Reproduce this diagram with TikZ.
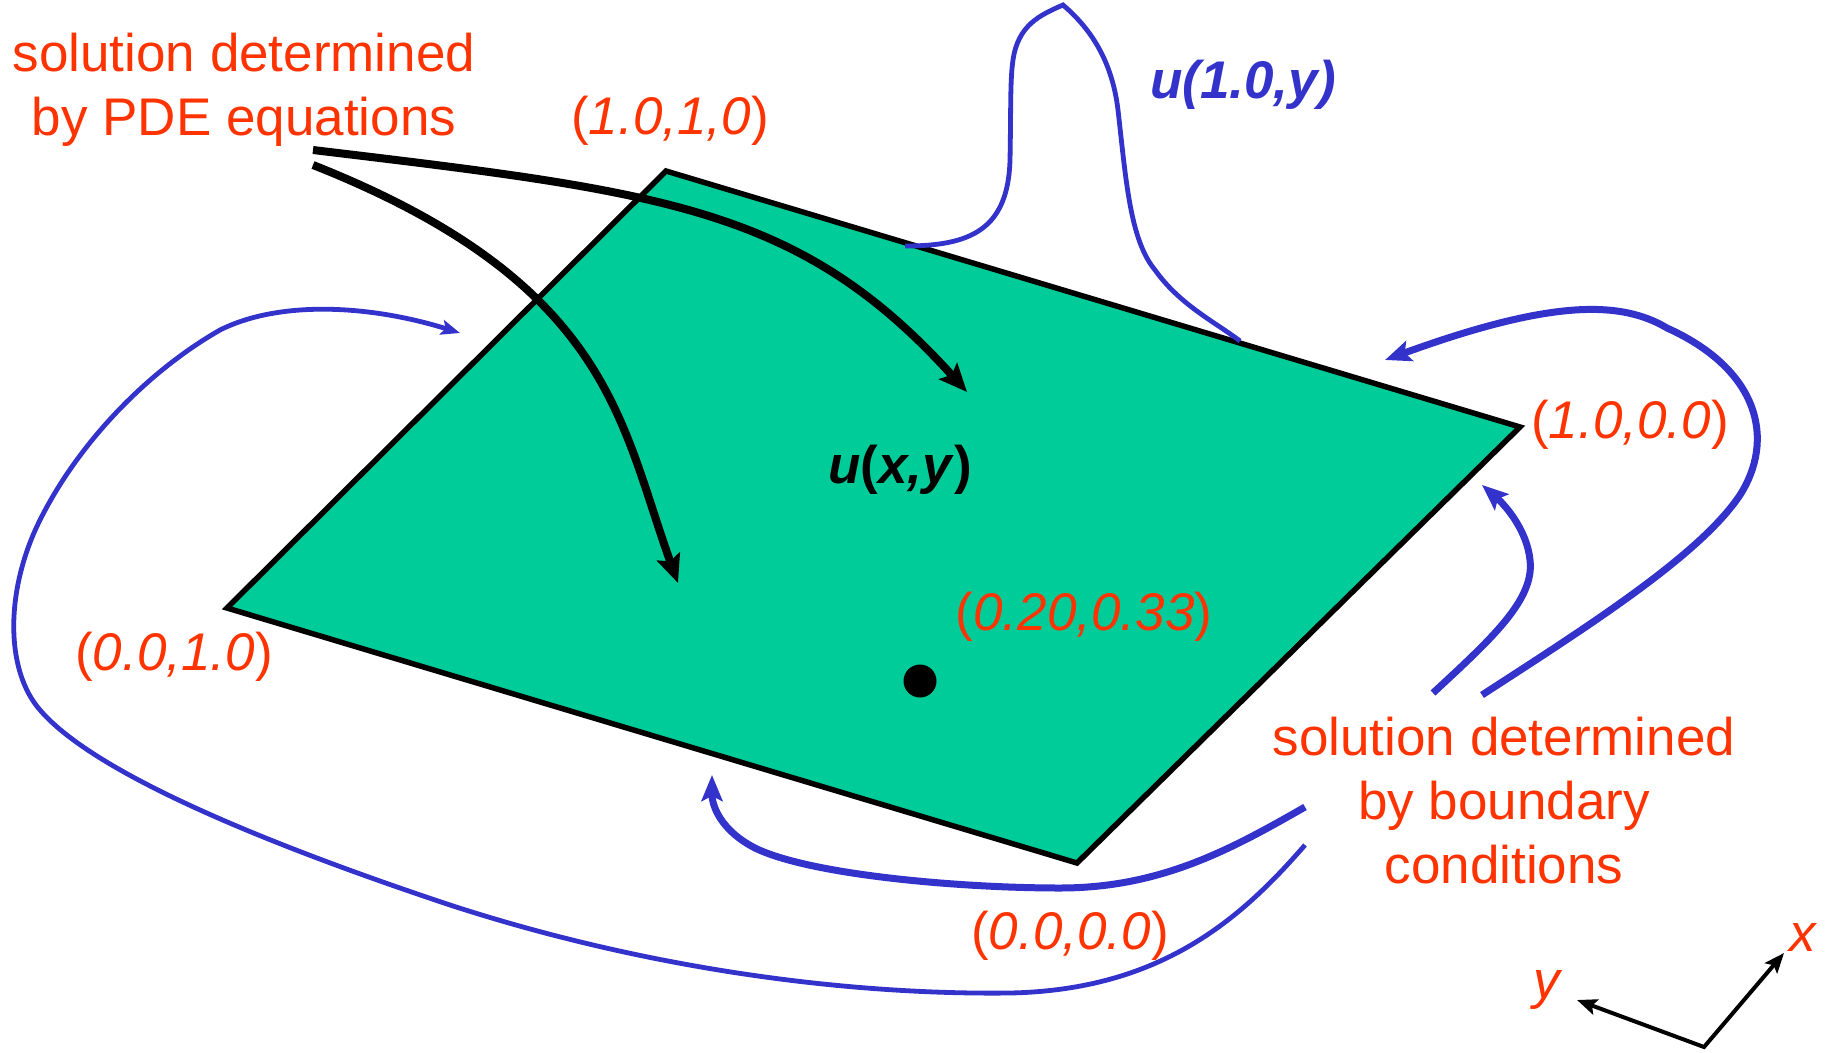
\documentclass[tikz,border=0pt]{standalone}
\usepackage{fontspec}
\setmainfont{Liberation Sans}
\usetikzlibrary{arrows.meta}
\definecolor{plate}{RGB}{0,204,153}
\definecolor{labred}{RGB}{255,51,0}
\definecolor{bcblue}{RGB}{51,51,204}

\begin{document}
\begin{tikzpicture}[x=1pt, y=-1pt,
    lbl/.style={text=labred, font=\fontsize{53}{64}\selectfont, inner sep=0pt},
    note/.style={lbl, align=center},
    pdearr/.style={line width=8pt, -{Stealth[length=28pt, width=24pt, inset=5pt]}},
    bcarr/.style={bcblue, line width=7pt, -{Stealth[length=26pt, width=21pt, inset=5pt]}},
    bcthin/.style={bcblue, line width=4.8pt},
    axarr/.style={line width=4pt, {Stealth[length=20pt, width=16pt, inset=4pt]}-{Stealth[length=20pt, width=16pt, inset=4pt]}}]
  \useasboundingbox (0,0) rectangle (1833,1052);
  % the unit square in perspective
  \coordinate (L) at (227,608);
  \coordinate (T) at (666,171);
  \coordinate (R) at (1520,427);
  \coordinate (B) at (1077,863);
  \filldraw[fill=plate, line width=5.5pt] (L) -- (T) -- (R) -- (B) -- cycle;
  \node[circle, fill=black, minimum size=33pt, inner sep=0pt] (pt) at (920,681) {};

  % labels
  \node[note] (pde) at (244,90) {solution determined\\by PDE equations};
  \node[note] (bc) at (1504,801) {solution determined\\by boundary\\conditions};
  \node[lbl] (c11) at (670,121) {(\textit{1.0,1,0})};
  \node[lbl] (c10) at (1630,425) {(\textit{1.0,0.0})};
  \node[lbl] (c01) at (174,657) {(\textit{0.0,1.0})};
  \node[lbl] (c00) at (1070,936) {(\textit{0.0,0.0})};
  \node[lbl] (cpt) at (1084,617) {(\textit{0.20,0.33})};
  \node[lbl, text=black, font=\fontsize{53}{64}\selectfont\bfseries] (uxy) at (900,470) {\textit{u}(\textit{x,y})};
  \node[lbl, text=bcblue, font=\fontsize{53}{64}\selectfont\bfseries\itshape] (u1y) at (1243,85) {u(1.0,y)};

  % PDE arrows
  \coordinate (pa0) at (313,150);
  \coordinate (pa1) at (967,392);
  \coordinate (pb0) at (313,165);
  \coordinate (pb1) at (678,583);
  \draw[pdearr] (pa0) .. controls (663,192) and (800,207) .. (pa1);
  \draw[pdearr] (pb0) .. controls (611,283) and (620,423) .. (pb1);

  % boundary profile u(1.0,y)
  \coordinate (bp0) at (905,246);
  \coordinate (bp1) at (1240,341);
  \draw[bcthin] (bp0) .. controls (970,246) and (1008,230) .. (1010,160)
    .. controls (1011,110) and (1010,80) .. (1013,60)
    .. controls (1018,25) and (1040,15) .. (1063,5)
    .. controls (1090,28) and (1112,60) .. (1118,110)
    .. controls (1126,180) and (1130,240) .. (1155,270)
    .. controls (1180,305) and (1215,322) .. (bp1);

  % boundary arrows
  \coordinate (lp0) at (1305,845);
  \coordinate (lp1) at (460,333);
  \draw[bcthin, -{Stealth[length=19pt, width=15pt, inset=4pt]}] (lp0)
    .. controls (1240,920) and (1160,990) .. (1010,993)
    .. controls (850,995) and (650,970) .. (450,905)
    .. controls (300,855) and (100,780) .. (40,710)
    .. controls (5,670) and (5,590) .. (40,520)
    .. controls (80,440) and (150,370) .. (220,330)
    .. controls (280,300) and (370,305) .. (lp1);
  \coordinate (ba0) at (1305,807);
  \coordinate (ba1) at (712,775);
  \draw[bcarr] (ba0) .. controls (1230,850) and (1160,888) .. (1060,888)
    .. controls (960,888) and (810,875) .. (755,848)
    .. controls (720,830) and (712,805) .. (ba1);
  \coordinate (ra0) at (1433,693);
  \coordinate (ra1) at (1482,485);
  \draw[bcarr] (ra0) .. controls (1490,640) and (1535,600) .. (1530,560)
    .. controls (1527,530) and (1505,505) .. (ra1);
  \coordinate (rb0) at (1482,695);
  \coordinate (rb1) at (1385,360);
  \draw[bcarr] (rb0) .. controls (1590,625) and (1700,555) .. (1740,495)
    .. controls (1775,440) and (1760,370) .. (1667,328)
    .. controls (1620,300) and (1550,300) .. (rb1);

  % axes
  \coordinate (ax0) at (1704,1047);
  \coordinate (axx) at (1784,953);
  \coordinate (axy) at (1577,1000);
  \draw[axarr] (axy) -- (ax0) -- (axx);
  \node[lbl, font=\fontsize{53}{64}\selectfont\itshape] (xl) at (1803,937) {x};
  \node[lbl, font=\fontsize{53}{64}\selectfont\itshape] (yl) at (1547,990) {y};
\end{tikzpicture}
\end{document}
